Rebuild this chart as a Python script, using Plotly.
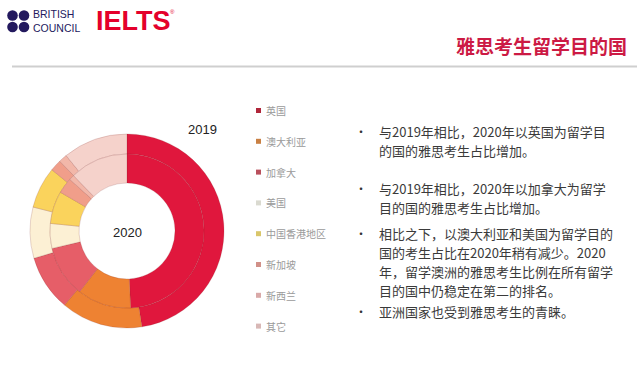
import plotly.graph_objects as go

W, H = 643, 379

# ---- data ----
countries = ["英国", "澳大利亚", "加拿大", "美国", "中国香港地区", "新加坡", "新西兰", "其它"]
share_2019 = [47.5, 13.6, 9.3, 8.5, 6.9, 1.9, 1.4, 10.8]
share_2020 = [49.2, 11.3, 10.8, 5.2, 6.8, 3.3, 1.1, 12.2]
colors = ["#E0173D", "#EE8232", "#E65E68", "#FCF0D4", "#FAD35C", "#F09E8A", "#F2B7A9", "#F5D2CB"]
legend_colors = ["#B0263A", "#C98043", "#B9505C", "#DADAD0", "#D9C66A", "#D19088", "#D9A9A8", "#D8B8B6"]

title_text = "雅思考生留学目的国"
bullets = [
    ["与2019年相比，2020年以英国为留学目", "的国的雅思考生占比增加。"],
    ["与2019年相比，2020年以加拿大为留学", "目的国的雅思考生占比增加。"],
    ["相比之下，以澳大利亚和美国为留学目的", "国的考生占比在2020年稍有减少。2020",
     "年，留学澳洲的雅思考生比例在所有留学", "目的国中仍稳定在第二的排名。"],
    ["亚洲国家也受到雅思考生的青睐。"],
]


def px(x):
    return x / W


def py(y):
    return 1 - y / H


cx, cy = 127, 231
r_out, r_mid, r_in = 97, 77, 48

fig = go.Figure()
fig.add_trace(go.Pie(
    labels=countries, values=share_2019, sort=False, direction="clockwise", rotation=0,
    hole=r_mid / r_out, textinfo="none", hoverinfo="label+percent",
    marker=dict(colors=colors, line=dict(color="rgba(120,40,40,0.18)", width=1)),
    domain=dict(x=[px(cx - r_out), px(cx + r_out)], y=[py(cy + r_out), py(cy - r_out)]),
    showlegend=False, name="2019",
))
fig.add_trace(go.Pie(
    labels=countries, values=share_2020, sort=False, direction="clockwise", rotation=0,
    hole=r_in / r_mid, textinfo="none", hoverinfo="label+percent",
    marker=dict(colors=colors, line=dict(color="rgba(120,40,40,0.18)", width=1)),
    domain=dict(x=[px(cx - r_mid), px(cx + r_mid)], y=[py(cy + r_mid), py(cy - r_mid)]),
    showlegend=False, name="2020",
))

ann = []
shapes = []
cjk = "Noto Sans CJK SC"

# ring labels
ann.append(dict(x=px(202), y=py(130), text="2019", showarrow=False, xanchor="center", yanchor="middle",
                font=dict(family="Liberation Sans", size=13, color="#222")))
ann.append(dict(x=px(cx), y=py(232), text="2020", showarrow=False, xanchor="center", yanchor="middle",
                font=dict(family="Liberation Sans", size=13, color="#222")))

# legend
for i, (name, c) in enumerate(zip(countries, legend_colors)):
    yy = 110.5 + 30.8 * i
    shapes.append(dict(type="rect", xref="paper", yref="paper", x0=px(256), x1=px(261),
                       y0=py(yy + 2.5), y1=py(yy - 2.5), fillcolor=c, line=dict(width=0)))
    ann.append(dict(x=px(264), y=py(yy), text=name, showarrow=False, xanchor="left", yanchor="middle",
                    font=dict(family=cjk, size=10, color="#9A9A9A")))

# bullets
starts = [131, 188, 233, 311]
for b, y0 in zip(bullets, starts):
    ann.append(dict(x=px(353), y=py(y0), text="•", showarrow=False, xanchor="left", yanchor="middle",
                    font=dict(family=cjk, size=12, color="#333")))
    for j, line in enumerate(b):
        ann.append(dict(x=px(377), y=py(y0 + 19 * j), text=line, showarrow=False, xanchor="left",
                        yanchor="middle", font=dict(family=cjk, size=13, color="#3A3A3A")))

# title and rule
ann.append(dict(x=px(629), y=py(45), text="<b>" + title_text + "</b>", showarrow=False, xanchor="right",
                yanchor="middle", font=dict(family=cjk, size=19, color="#CC1A44")))
shapes.append(dict(type="line", xref="paper", yref="paper", x0=px(12), x1=px(637), y0=py(66.5), y1=py(66.5),
                   line=dict(color="#CFCFCF", width=2)))

# logo
for (lx, ly) in [(12.5, 15.5), (24, 15.5), (12.5, 27), (24, 27)]:
    shapes.append(dict(type="circle", xref="paper", yref="paper", x0=px(lx - 5.3), x1=px(lx + 5.3),
                       y0=py(ly + 5.3), y1=py(ly - 5.3), fillcolor="#23195E", line=dict(width=0)))
ann.append(dict(x=px(32), y=py(21), text="BRITISH<br>COUNCIL", showarrow=False, xanchor="left",
                yanchor="middle", align="left", borderpad=0,
                font=dict(family="Liberation Sans Narrow, Liberation Sans", size=10.5, color="#23195E")))
ann.append(dict(x=px(94), y=py(21), text="<b>IELTS</b>", showarrow=False, xanchor="left", yanchor="middle",
                font=dict(family="Liberation Sans", size=27, color="#E4002B")))
ann.append(dict(x=px(168), y=py(12), text="®", showarrow=False, xanchor="left", yanchor="middle",
                font=dict(family="Liberation Sans", size=6, color="#E4002B")))

fig.update_layout(
    width=W, height=H, margin=dict(l=0, r=0, t=0, b=0),
    paper_bgcolor="#FFFFFF", plot_bgcolor="#FFFFFF",
    annotations=ann, shapes=shapes, showlegend=False,
)
fig.write_html("out.html")
